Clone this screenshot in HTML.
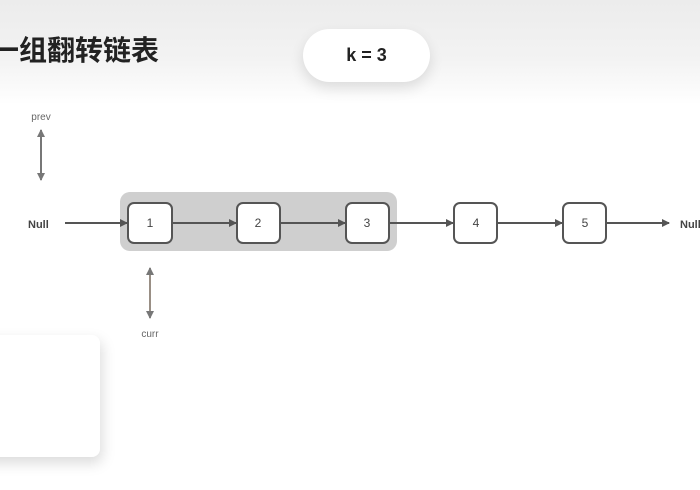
<!DOCTYPE html>
<html><head><meta charset="utf-8"><style>
html,body{margin:0;padding:0;}
body{width:700px;height:490px;overflow:hidden;position:relative;background:linear-gradient(#ececec 0px,#f3f3f3 60px,#fff 105px,#fff 490px);font-family:"Liberation Sans",Arial,sans-serif;}
.title{position:absolute;left:-9px;top:33px;font:bold 28px "Liberation Sans","Noto Sans CJK SC",sans-serif;color:#222;line-height:36px;}
.pill{position:absolute;left:303px;top:29px;width:127px;height:53px;border-radius:27px;background:#fff;box-shadow:0 6px 14px rgba(0,0,0,0.12);text-align:center;line-height:53px;font-weight:bold;font-size:18px;color:#222;}
.card{position:absolute;left:-20px;top:335px;width:120px;height:122px;border-radius:8px;background:#fff;box-shadow:2px 6px 14px rgba(0,0,0,0.15);}
</style></head><body>
<div class="title">一组翻转链表</div>
<div class="pill">k = 3</div>
<div class="card"></div>
<svg width="700" height="490" style="position:absolute;left:0;top:0">
<defs><marker id="a" markerWidth="8" markerHeight="8" refX="7" refY="4" orient="auto" markerUnits="userSpaceOnUse"><path d="M0,0 L8,4 L0,8 z" fill="#555"/></marker>
<marker id="b" markerWidth="8" markerHeight="8" refX="7" refY="4" orient="auto-start-reverse" markerUnits="userSpaceOnUse"><path d="M0,0 L8,4 L0,8 z" fill="#777"/></marker></defs>
<rect x="120" y="192" width="277" height="59" rx="10" fill="#cfcfcf"/>
<g stroke="#555" stroke-width="2" fill="none">
<line x1="65" y1="223" x2="127" y2="223" marker-end="url(#a)"/>
<line x1="172" y1="223" x2="236" y2="223" marker-end="url(#a)"/>
<line x1="280" y1="223" x2="345" y2="223" marker-end="url(#a)"/>
<line x1="389" y1="223" x2="453" y2="223" marker-end="url(#a)"/>
<line x1="497" y1="223" x2="562" y2="223" marker-end="url(#a)"/>
<line x1="606" y1="223" x2="669" y2="223" marker-end="url(#a)"/>
</g>
<g stroke="#555" stroke-width="2" fill="#fff">
<rect x="128" y="203" width="44" height="40" rx="6"/>
<rect x="237" y="203" width="43" height="40" rx="6"/>
<rect x="346" y="203" width="43" height="40" rx="6"/>
<rect x="454" y="203" width="43" height="40" rx="6"/>
<rect x="563" y="203" width="43" height="40" rx="6"/>
</g>
<g font-family="Liberation Sans,sans-serif" font-size="12" fill="#444" text-anchor="middle">
<text x="150" y="227">1</text><text x="258" y="227">2</text><text x="367" y="227">3</text><text x="476" y="227">4</text><text x="585" y="227">5</text>
</g>
<line x1="41" y1="130" x2="41" y2="180" stroke="#777" stroke-width="2" marker-start="url(#b)" marker-end="url(#b)"/>
<line x1="150" y1="268" x2="150" y2="318" stroke="#998f85" stroke-width="2" marker-start="url(#b)" marker-end="url(#b)"/>
<text x="28" y="228" font-size="11" font-weight="bold" fill="#444" font-family="Liberation Sans,sans-serif">Null</text>
<text x="680" y="228" font-size="11" font-weight="bold" fill="#444" font-family="Liberation Sans,sans-serif">Null</text>
<text x="41" y="120" font-size="10" fill="#666" text-anchor="middle" font-family="Liberation Sans,sans-serif">prev</text>
<text x="150" y="337" font-size="10" fill="#666" text-anchor="middle" font-family="Liberation Sans,sans-serif">curr</text>
</svg>
</body></html>
